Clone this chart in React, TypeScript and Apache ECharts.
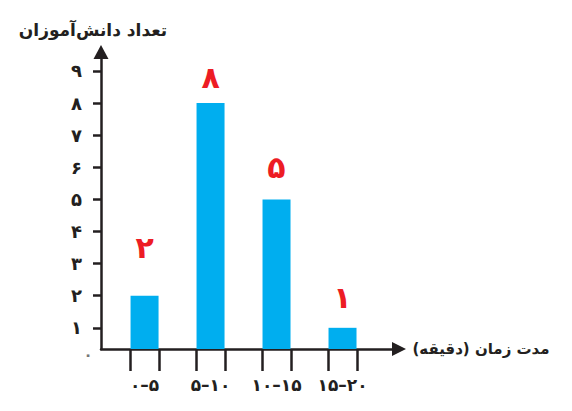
import { useRef, useEffect } from "react";
import * as echarts from "echarts";

// بازه‌های زمانی (دقیقه) و تعداد دانش‌آموزان
const intervals = ["۰–۵", "۵–۱۰", "۱۰–۱۵", "۱۵–۲۰"];
const counts = [2, 8, 5, 1];
const yTicks = [1, 2, 3, 4, 5, 6, 7, 8, 9];

// فاصله برچسب قرمز از بالای ستون
const labelGaps = [33, 11, 17, 15];

const faDigits = "۰۱۲۳۴۵۶۷۸۹";
const toFa = (n: number | string) =>
  String(n).replace(/\d/g, (d) => faDigits[Number(d)]);

const FONT = "DejaVu Sans";
const INK = "#231f20";

const App = () => {
  const chartRef = useRef<HTMLDivElement>(null);

  useEffect(() => {
    const chart = echarts.init(chartRef.current, null, { renderer: "svg" });

    const centers = counts.map((_, i) => i + 1);
    const half = 0.22;
    const edges = centers.flatMap((c) => [c - half, c + half]);

    chart.setOption({
      animation: false,
      backgroundColor: "#fff",
      grid: { left: 101, right: 173, top: 52, bottom: 62 },
      xAxis: {
        type: "value",
        min: 0.34,
        max: 4.856,
        splitLine: { show: false },
        axisLine: {
          lineStyle: { color: INK, width: 2.5 },
          symbol: ["none", "triangle"],
          symbolSize: [14, 14],
        },
        axisTick: {
          customValues: edges,
          length: 22,
          lineStyle: { color: INK, width: 2.5 },
        },
        axisLabel: {
          customValues: centers,
          formatter: (v: number) => intervals[Math.round(v) - 1] ?? "",
          margin: 27,
          fontFamily: FONT,
          fontSize: 17,
          fontWeight: "bold",
          color: INK,
        },
      },
      yAxis: {
        type: "value",
        min: 0.34,
        max: 9.59,
        splitLine: { show: false },
        axisLine: {
          lineStyle: { color: INK, width: 2.5 },
          symbol: ["none", "triangle"],
          symbolSize: [15, 14],
        },
        axisTick: {
          customValues: yTicks,
          length: 8,
          lineStyle: { color: INK, width: 2.5 },
        },
        axisLabel: {
          customValues: yTicks,
          formatter: (v: number) => toFa(v),
          margin: 19,
          fontFamily: FONT,
          fontSize: 18,
          fontWeight: "bold",
          color: INK,
        },
      },
      series: [
        {
          type: "bar",
          barWidth: 28,
          itemStyle: { color: "#00aeef" },
          data: counts.map((c, i) => ({
            value: [centers[i], c],
            label: { distance: labelGaps[i] },
          })),
          label: {
            show: true,
            position: "top",
            formatter: (p: any) => toFa(p.value[1]),
            fontFamily: FONT,
            fontSize: 30,
            fontWeight: "bold",
            color: "#ed1c24",
          },
        },
      ],
      graphic: [
        {
          type: "text",
          x: 93,
          y: 30,
          style: {
            text: "تعداد دانش‌آموزان",
            font: `bold 17px "${FONT}"`,
            fill: INK,
            textAlign: "center",
            textVerticalAlign: "middle",
          },
        },
        {
          type: "text",
          x: 481,
          y: 349,
          style: {
            text: "مدت زمان (دقیقه)",
            font: `bold 15px "${FONT}"`,
            fill: INK,
            textAlign: "center",
            textVerticalAlign: "middle",
          },
        },
        {
          type: "text",
          x: 88,
          y: 355,
          style: {
            text: "۰",
            font: `bold 15px "${FONT}"`,
            fill: "#777",
            textAlign: "center",
            textVerticalAlign: "middle",
          },
        },
      ],
    });

    return () => {
      chart.dispose();
    };
  }, []);

  return (
    <div
      ref={chartRef}
      style={{ position: "absolute", left: 0, top: 0, width: "572px", height: "411px" }}
    ></div>
  );
};

export default App;
